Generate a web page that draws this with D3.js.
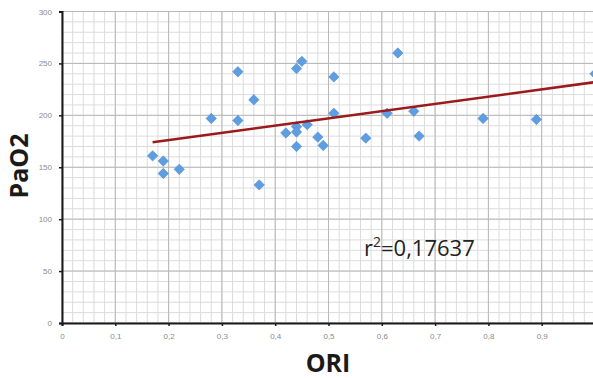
<!DOCTYPE html>
<html>
<head>
<meta charset="utf-8">
<script src="https://cdn.jsdelivr.net/npm/d3@7"></script>
<style>
    body { margin: 0; background: #fff; }
    svg { display: block; font-family: "Open Sans", sans-serif; }
    .tick-label { fill: #8a8a8a; font-size: 8px; }
</style>
</head>
<body>
<div id="chart"></div>
<script>
// ORI (x) values for every patient
let oriValues = [0.17, 0.19, 0.19, 0.22, 0.28, 0.33, 0.33, 0.36, 0.37, 0.42, 0.44, 0.45, 0.44, 0.44,
    0.44, 0.46, 0.48, 0.49, 0.51, 0.51, 0.57, 0.61, 0.63, 0.66, 0.67, 0.79, 0.89, 1.00];
// PaO2 (y) values
let pao2Values = [161, 156, 144, 148, 197, 242, 195, 215, 133, 183, 245, 252, 189, 184,
    170, 191, 179, 171, 237, 202, 178, 202, 260, 204, 180, 197, 196, 240];

// linear trend line ends
let trendX = [0.17, 1.0];
let trendY = [174, 232];

let xTicks = [0, 0.1, 0.2, 0.3, 0.4, 0.5, 0.6, 0.7, 0.8, 0.9, 1.0];
let yTicks = [0, 50, 100, 150, 200, 250, 300];

let width = 593, height = 378;
let margin = { top: 11.5, left: 62, bottom: 55 };

let svg = d3.select("#chart").append("svg")
    .attr("width", width)
    .attr("height", height);

let x = d3.scaleLinear().domain([0, 1]).range([margin.left, 595]);
let y = d3.scaleLinear().domain([0, 300]).range([323, margin.top]);

// grid: minor lines every 0.02 / 10, major every 0.1 / 50
let minorX = d3.range(0, 1.0001, 0.02);
let minorY = d3.range(0, 300.001, 10);

let grid = svg.append("g");
grid.selectAll(".vminor").data(minorX).enter().append("line")
    .attr("x1", d => x(d)).attr("x2", d => x(d))
    .attr("y1", y(0)).attr("y2", y(300))
    .attr("stroke", "#dcdcdc").attr("stroke-width", 1);
grid.selectAll(".hminor").data(minorY).enter().append("line")
    .attr("x1", x(0)).attr("x2", x(1))
    .attr("y1", d => y(d)).attr("y2", d => y(d))
    .attr("stroke", "#dcdcdc").attr("stroke-width", 1);
grid.selectAll(".vmajor").data(xTicks).enter().append("line")
    .attr("x1", d => x(d)).attr("x2", d => x(d))
    .attr("y1", y(0)).attr("y2", y(300))
    .attr("stroke", "#b8b8b8").attr("stroke-width", 1);
grid.selectAll(".hmajor").data(yTicks).enter().append("line")
    .attr("x1", x(0)).attr("x2", x(1))
    .attr("y1", d => y(d)).attr("y2", d => y(d))
    .attr("stroke", "#b8b8b8").attr("stroke-width", 1);

// axes
let xAxis = d3.axisBottom(x).tickValues(xTicks).tickSize(3).tickPadding(7)
    .tickFormat(d => d === 0 ? "0" : d3.format(".1f")(d).replace(".", ","));
let yAxis = d3.axisLeft(y).tickValues(yTicks).tickSize(3).tickPadding(7);

let gx = svg.append("g").attr("transform", "translate(0," + y(0) + ")").call(xAxis);
let gy = svg.append("g").attr("transform", "translate(" + x(0) + ",0)").call(yAxis);

[gx, gy].forEach(g => {
    g.select(".domain").attr("stroke", "#1a1a1a").attr("stroke-width", 2);
    g.selectAll(".tick line").attr("stroke", "#1a1a1a").attr("stroke-width", 1.5);
    g.selectAll(".tick text").attr("class", "tick-label").attr("font-family", null).attr("font-size", null);
});
gx.selectAll(".tick").filter(d => d === 1).remove();

// scatter points (diamonds)
svg.selectAll(".pt").data(oriValues).enter().append("path")
    .attr("d", d3.symbol().type(d3.symbolSquare).size(54))
    .attr("transform", (d, i) => "translate(" + x(d) + "," + y(pao2Values[i]) + ") rotate(45)")
    .attr("fill", "#5e9ee0")
    .attr("stroke", "#4f8fd6")
    .attr("stroke-width", 0.6);

// trend line
let line = d3.line().x(d => x(d[0])).y(d => y(d[1]));
svg.append("path")
    .datum(d3.zip(trendX, trendY))
    .attr("d", line)
    .attr("fill", "none")
    .attr("stroke", "#9b1a1c")
    .attr("stroke-width", 2.5);

// r squared label
let rText = svg.append("text")
    .attr("x", 364).attr("y", 256)
    .attr("font-size", 22)
    .attr("fill", "#222");
rText.append("tspan").text("r");
rText.append("tspan").attr("font-size", 14).attr("dy", -9).text("2");
rText.append("tspan").attr("dy", 9).text("=0,17637");

// axis titles
svg.append("text")
    .attr("x", 328).attr("y", 372)
    .attr("text-anchor", "middle")
    .attr("font-size", 25).attr("font-weight", "bold")
    .attr("fill", "#1a1a1a")
    .text("ORI");

svg.append("text")
    .attr("transform", "translate(28,166) rotate(-90)")
    .attr("text-anchor", "middle")
    .attr("font-size", 25).attr("font-weight", "bold")
    .attr("fill", "#1a1a1a")
    .text("PaO2");
</script>
</body>
</html>
